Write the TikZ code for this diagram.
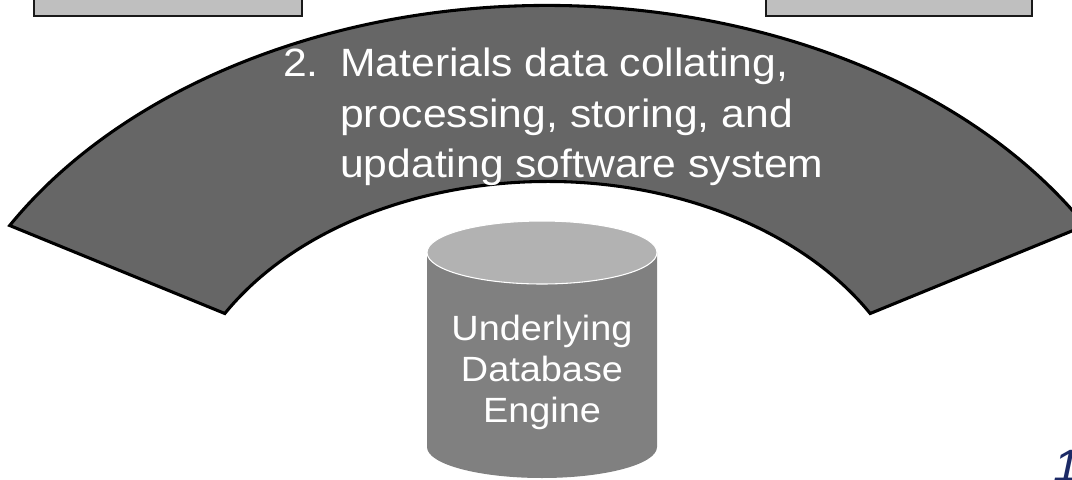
\documentclass[tikz,border=0pt]{standalone}
\usepackage{fontspec}
\setmainfont{Liberation Sans}[FakeStretch=1.08]
\begin{document}
\begin{tikzpicture}[x=0.75pt,y=0.75pt,
  panel/.style={draw=black!90,line width=1.6pt,fill=black!25},
  band/.style={draw=black,line width=2.3pt,fill=black!60,line join=miter},
  bandtext/.style={text=white,inner sep=0pt,anchor=base west,
    font=\fontsize{29.6}{37.9}\selectfont},
  dbtext/.style={text=white,inner sep=0pt,anchor=base,
    font=\fontsize{26.3}{31}\selectfont},
  pagenum/.style={text={rgb,255:red,28;green,42;blue,102},inner sep=0pt,
    anchor=base west,font=\fontsize{34}{40}\selectfont\itshape}]
\useasboundingbox (0,0) rectangle (1072,-479);
\clip (0,0) rectangle (1072,-479);

% two panels cut off by the top edge
\draw[panel] (34,30) rectangle (302,-16);
\draw[panel] (766,30) rectangle (1032,-16);

% curved band: sector of an elliptical ring
\coordinate (c) at (547.5,-445.5);
\draw[band] ([shift={(30:621 and 440)}]c)
  arc[start angle=30,end angle=150,x radius=621,y radius=440]
  -- ([shift={(150:372.6 and 264)}]c)
  arc[start angle=150,end angle=30,x radius=372.6,y radius=264]
  -- cycle;

\node[bandtext] (num) at (283,-76.7) {2.};
\node[bandtext] (l1) at (340,-76.7) {Materials data collating,};
\node[bandtext] (l2) at (340,-127.2) {processing, storing, and};
\node[bandtext] (l3) at (340,-177.5) {updating software system};

% database cylinder
\fill[black!50] (427,-252.5) -- (427,-447)
  arc[start angle=180,end angle=360,x radius=115,y radius=31]
  -- (657,-252.5) -- cycle;
\draw[white,line width=0.8pt,fill=black!30] (542,-252.5) ellipse[x radius=115,y radius=31.5];

\node[dbtext] (d1) at (542,-340) {Underlying};
\node[dbtext] (d2) at (542,-381.5) {Database};
\node[dbtext] (d3) at (542,-422.8) {Engine};

% slide number, partly below the lower edge
\node[pagenum] (pg) at (1053,-481) {1};
\end{tikzpicture}
\end{document}
